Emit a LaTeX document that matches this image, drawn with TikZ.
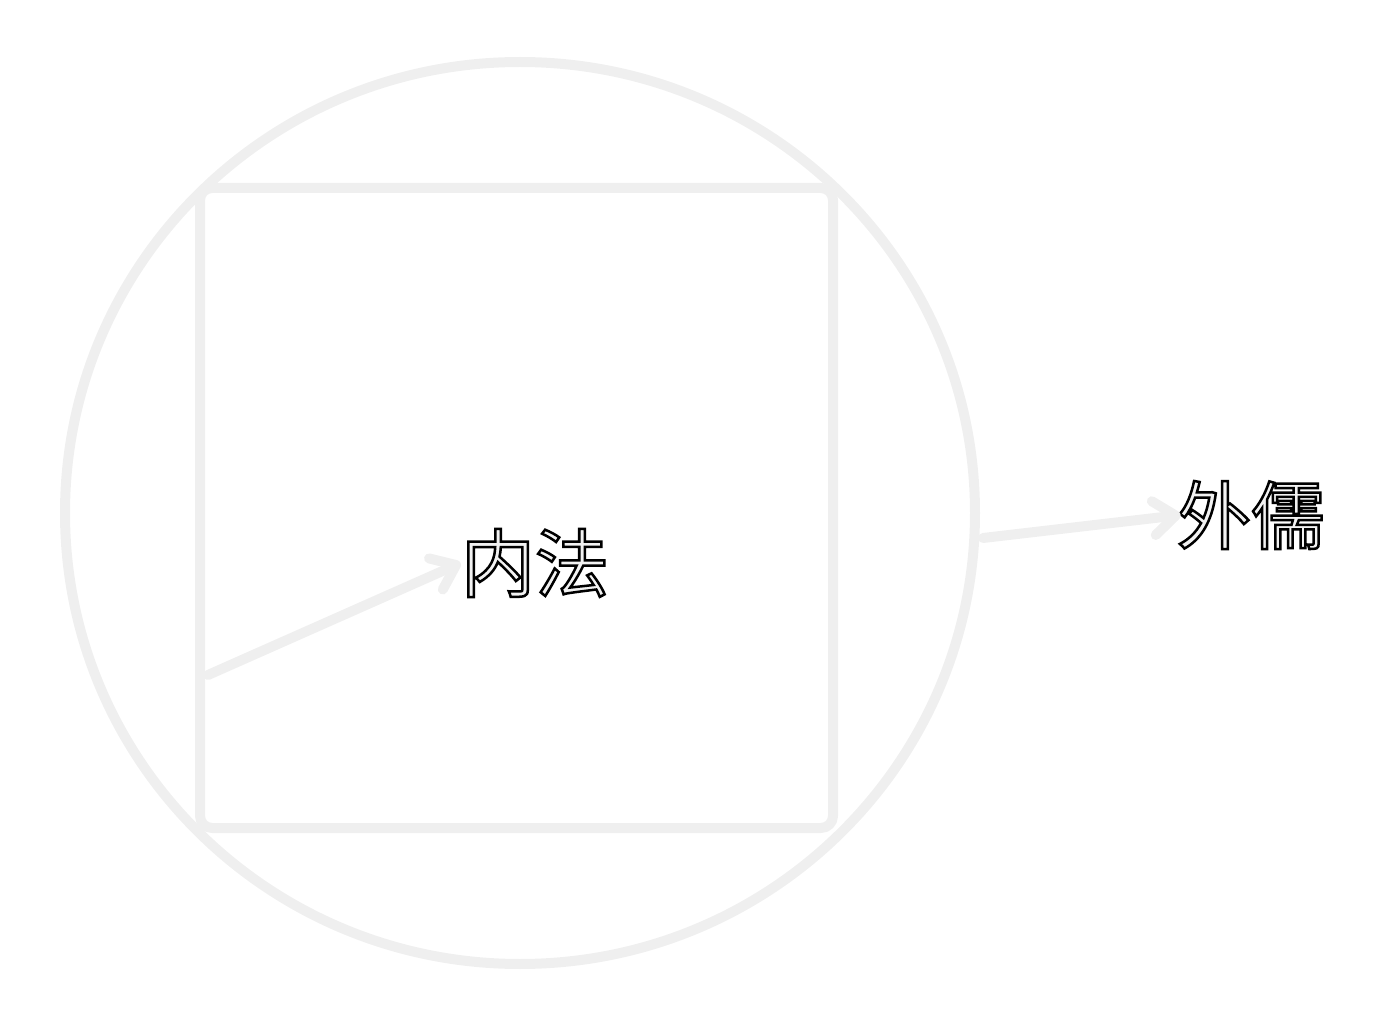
\documentclass[tikz,border=0pt]{standalone}
\usepackage{fontspec}
\newfontfamily\cjk{Noto Sans CJK SC}
\usetikzlibrary{arrows.meta}
\definecolor{sketchgray}{HTML}{EFEFEF}
\newcommand{\hollow}[1]{\special{pdf:literal direct 0.95 g 0 G 2 Tr 1.25 w}#1\special{pdf:literal direct 0 Tr}}
\begin{document}
\begin{tikzpicture}[x=0.5pt,y=-0.5pt,
    sketch/.style={draw=sketchgray,line width=5pt,line cap=round,line join=round},
    tip/.style={-{Straight Barb[round,length=11pt 0,width=17pt 0]}},
    word/.style={inner sep=0pt,font=\cjk\fontsize{37}{40}\selectfont}]
    \useasboundingbox(0,0)rectangle(1389,1027);
    % outer circle and inner square
    \draw[sketch](520,513)ellipse[x radius=455,y radius=451];
    \draw[sketch,rounded corners=6pt](200,188)rectangle(833,828);
    \coordinate(left)at(208,675);
    \coordinate(rim)at(983,538);
    \node[word]at(535,563)(inner){\hollow{内法}};
    \node[word]at(1251,515)(outer){\hollow{外儒}};
    \draw[sketch,tip](left)--(inner.west);
    \draw[sketch,tip](rim)--([xshift=2pt]outer.west);
\end{tikzpicture}
\end{document}
